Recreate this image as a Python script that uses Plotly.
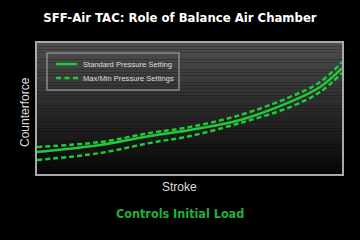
import plotly.graph_objects as go

stroke = [0, 2.07, 3.70, 5.02, 6.66, 8.30, 9.28, 10]
standard = [1.68, 2.21, 2.90, 3.36, 4.12, 5.50, 6.64, 8.09]
upper = [2.06, 2.44, 3.13, 3.59, 4.50, 5.88, 7.02, 8.55]
lower = [1.07, 1.60, 2.37, 2.90, 3.89, 5.11, 6.26, 7.71]

title = "SFF-Air TAC: Role of Balance Air Chamber"
subtitle = "Controls Initial Load"
x_title = "Stroke"
y_title = "Counterforce"
names = ["Standard Pressure Setting", "Max/Min Pressure Settings"]

green = "#1fc93a"
cond = "DejaVu Sans Condensed, Liberation Sans Narrow, Liberation Sans"
W, H = 360, 240
L, R, T, B = 37, 18, 43, 66
pw, ph = W - L - R, H - T - B


def px(x):
    return (x - L) / pw


def py(y):
    return (H - B - y) / ph


fig = go.Figure()
fig.add_trace(go.Scatter(x=stroke, y=standard, mode="lines", name=names[0], showlegend=False,
                         line=dict(color=green, width=2.5, shape="spline", smoothing=1.0)))
fig.add_trace(go.Scatter(x=stroke, y=upper, mode="lines", name=names[1], showlegend=False,
                         line=dict(color=green, width=2.5, dash="5px,3px", shape="spline", smoothing=1.0)))
fig.add_trace(go.Scatter(x=stroke, y=lower, mode="lines", name=names[1], showlegend=False,
                         line=dict(color=green, width=2.5, dash="5px,3px", shape="spline", smoothing=1.0)))

# gradient background
shapes = []
n = 40
top_c, bot_c = (78, 78, 78), (8, 6, 6)
for i in range(n):
    t = i / (n - 1)
    c = tuple(int(round(top_c[k] + (bot_c[k] - top_c[k]) * t)) for k in range(3))
    shapes.append(dict(type="rect", xref="x domain", yref="y domain",
                       x0=0, x1=1, y0=1 - (i + 1) / n, y1=1 - i / n,
                       fillcolor="rgb(%d,%d,%d)" % c, line=dict(width=0), layer="below"))

# legend box and samples
shapes.append(dict(type="rect", xref="paper", yref="paper", x0=px(47), x1=px(179), y0=py(90), y1=py(53),
                   line=dict(color="#8a8a8a", width=1.5), fillcolor="rgba(0,0,0,0)"))
shapes.append(dict(type="line", xref="paper", yref="paper", x0=px(56), x1=px(77), y0=py(64), y1=py(64),
                   line=dict(color=green, width=2.5)))
shapes.append(dict(type="line", xref="paper", yref="paper", x0=px(56), x1=px(78), y0=py(78), y1=py(78),
                   line=dict(color=green, width=2.5, dash="5px,3.5px")))

annotations = [
    dict(text="<b>" + subtitle + "</b>", xref="paper", yref="paper",
         x=px(180), y=py(213), xanchor="center", yanchor="middle", showarrow=False,
         font=dict(family=cond, size=12.5, color="#22b038")),
    dict(text=x_title, xref="paper", yref="paper", x=px(179), y=py(187),
         xanchor="center", yanchor="middle", showarrow=False,
         font=dict(family="Liberation Sans", size=12, color="#dddddd")),
    dict(text=y_title, xref="paper", yref="paper", x=px(25), y=py(112), textangle=-90,
         xanchor="center", yanchor="middle", showarrow=False,
         font=dict(family="Liberation Sans", size=12, color="#dddddd")),
    dict(text=names[0], xref="paper", yref="paper", x=px(81), y=py(64),
         xanchor="left", yanchor="middle", showarrow=False,
         font=dict(family="Liberation Sans", size=7.6, color="#dddddd")),
    dict(text=names[1], xref="paper", yref="paper", x=px(81), y=py(78),
         xanchor="left", yanchor="middle", showarrow=False,
         font=dict(family="Liberation Sans", size=7.6, color="#dddddd")),
]

fig.update_layout(
    width=W, height=H,
    margin=dict(l=L, r=R, t=T, b=B),
    paper_bgcolor="black", plot_bgcolor="black",
    shapes=shapes, annotations=annotations, showlegend=False,
    title=dict(text="<b>" + title + "</b>", x=0.5, xanchor="center", y=1 - 17 / H, yanchor="middle",
               font=dict(family=cond, size=13, color="white")),
    xaxis=dict(range=[0, 10], showticklabels=False, ticks="", showgrid=False, zeroline=False,
               showline=True, mirror=True, linecolor="#a8a8a8", linewidth=1.5),
    yaxis=dict(range=[0, 10], showticklabels=False, ticks="", showgrid=False, zeroline=False,
               showline=True, mirror=True, linecolor="#a8a8a8", linewidth=1.5),
)
fig.write_html("out.html")
